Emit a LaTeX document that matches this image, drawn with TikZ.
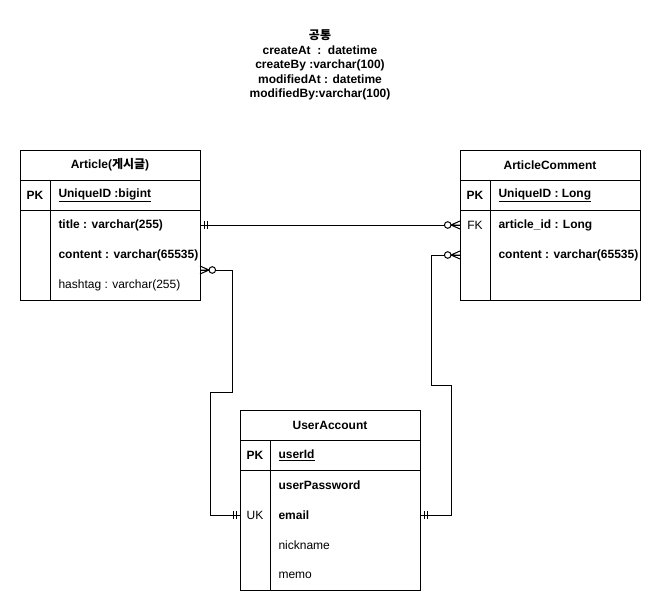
\documentclass[tikz,border=0pt]{standalone}
\usepackage{fontspec}
\setmainfont{Liberation Sans}
\newfontfamily\kr{Noto Sans CJK KR}
\begin{document}
\begin{tikzpicture}[x=1pt,y=-1pt,line width=1pt,
  ent/.style={draw,line width=1pt,minimum width=180pt,inner sep=0pt,anchor=north west},
  hdr/.style={font=\bfseries\fontsize{12}{14}\selectfont,inner sep=0pt},
  fld/.style={font=\fontsize{12}{14}\selectfont,inner sep=0pt,anchor=west},
  bfld/.style={fld,font=\bfseries\fontsize{12}{14}\selectfont},
  key/.style={font=\fontsize{12}{14}\selectfont,inner sep=0pt},
  bkey/.style={key,font=\bfseries\fontsize{12}{14}\selectfont},
  pics/mone/.style={code={\draw (4,-4)--(4,4) (7,-4)--(7,4);}},
  pics/zmany/.style={code={\draw (0,-4)--(9,0)--(0,4) (0,0)--(9,0);
     \draw[fill=white] (12.3,0) circle[radius=3.3];}}
]
\useasboundingbox (0,0) rectangle (671,611);

% common text
\node[align=center,inner sep=0pt,font=\bfseries\fontsize{12}{14.5}\selectfont] (common) at (320,65)
  {{\kr 공통}\\createAt\ \ :\ \ datetime\\createBy :varchar(100)\\modifiedAt : datetime\\modifiedBy:varchar(100)};

% Article
\node[ent,minimum height=150pt] (art) at (20,150) {};
\draw ([yshift=-30pt]art.north west) -- ([yshift=-30pt]art.north east);
\draw ([yshift=-60pt]art.north west) -- ([yshift=-60pt]art.north east);
\draw ([shift={(30pt,-30pt)}]art.north west) -- ([xshift=30pt]art.south west);
\node[hdr] (arth) at (110,165) {Article({\kr 게시글})};
\node[bkey] (artpkk) at (35,195) {PK};
\node[bfld] (artpk) at (58,195) {\underline{UniqueID :bigint}};
\node[bfld] (artf1) at (58,225) {title : varchar(255)};
\node[bfld] (artf2) at (58,255) {content : varchar(65535)};
\node[fld] (artf3) at (58,285) {hashtag : varchar(255)};

% ArticleComment
\node[ent,minimum height=150pt] (com) at (460,150) {};
\draw ([yshift=-30pt]com.north west) -- ([yshift=-30pt]com.north east);
\draw ([yshift=-60pt]com.north west) -- ([yshift=-60pt]com.north east);
\draw ([shift={(30pt,-30pt)}]com.north west) -- ([xshift=30pt]com.south west);
\node[hdr] (comh) at (550,165) {ArticleComment};
\node[bkey] (compkk) at (475,195) {PK};
\node[bfld] (compk) at (498,195) {\underline{UniqueID : Long}};
\node[key] (comfk) at (475,225) {FK};
\node[bfld] (comf1) at (498,225) {article\_id : Long};
\node[bfld] (comf2) at (498,255) {content : varchar(65535)};

% UserAccount
\node[ent,minimum height=180pt] (usr) at (240,410) {};
\draw ([yshift=-30pt]usr.north west) -- ([yshift=-30pt]usr.north east);
\draw ([yshift=-60pt]usr.north west) -- ([yshift=-60pt]usr.north east);
\draw ([shift={(30pt,-30pt)}]usr.north west) -- ([xshift=30pt]usr.south west);
\node[hdr] (usrh) at (330,425) {UserAccount};
\node[bkey] (usrpkk) at (255,455) {PK};
\node[bfld] (usrpk) at (278,455) {\underline{userId}};
\node[bfld] (usrf1) at (278,485) {userPassword};
\node[key] (usruk) at (255,515) {UK};
\node[bfld] (usrf2) at (278,515) {email};
\node[fld] (usrf3) at (278,545) {nickname};
\node[fld] (usrf4) at (278,575) {memo};

% connectors
\coordinate (a1) at (200,225);
\coordinate (c1) at (460,225);
\coordinate (a2) at (200,270);
\coordinate (c2) at (460,255);
\coordinate (u1) at (240,515);
\coordinate (u2) at (420,515);

\draw (a1) -- (c1);
\pic at (a1) {mone};
\pic[rotate=180] at (c1) {zmany};

\draw (a2) -- (232,270) -- (232,392) -- (210,392) -- (210,515) -- (u1);
\pic at (a2) {zmany};
\pic[rotate=180] at (u1) {mone};

\draw (c2) -- (431,255) -- (431,385) -- (451,385) -- (451,515) -- (u2);
\pic[rotate=180] at (c2) {zmany};
\pic at (u2) {mone};
\end{tikzpicture}
\end{document}
